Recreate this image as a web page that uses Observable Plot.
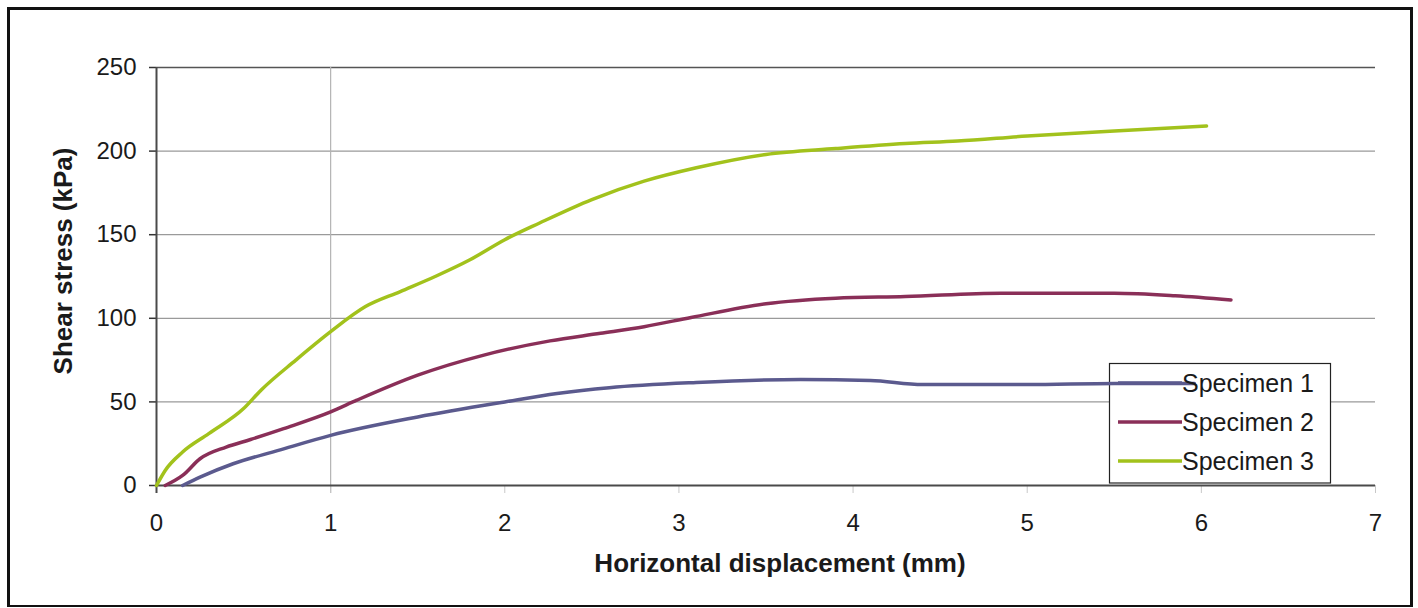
<!DOCTYPE html>
<html>
<head>
<meta charset="utf-8">
<script src="https://cdn.jsdelivr.net/npm/d3@7"></script>
<script src="https://cdn.jsdelivr.net/npm/@observablehq/plot@0.6"></script>
<style>
  html, body { margin: 0; padding: 0; background: #fff; }
  #wrap { position: relative; width: 1418px; height: 608px; overflow: hidden; }
  #frame { position: absolute; left: 7px; top: 7px; width: 1406px; height: 600px; box-sizing: border-box; border: 3px solid #111; border-bottom-width: 2px; pointer-events: none; }
  #wrap svg { position: absolute; left: 0; top: 0; }
</style>
</head>
<body>
<div id="wrap"><div id="frame"></div></div>
<script>
// ---- data ----
const seriesNames = ["Specimen 1", "Specimen 2", "Specimen 3"];
const seriesColors = ["#5b5a8e", "#8a2f58", "#a2c21c"];
const xTicks = [0, 1, 2, 3, 4, 5, 6, 7];
const yTicks = [0, 50, 100, 150, 200, 250];

const spec1X = [0.15, 0.25, 0.44, 0.7, 1.0, 1.5, 2.0, 2.3, 2.6, 3.1, 3.7, 4.1, 4.4, 5.0, 5.5, 5.96];
const spec1Y = [0, 5, 13, 21, 30, 41, 50, 55, 58.5, 61.6, 63.4, 62.8, 60.4, 60.4, 61, 61];

const spec2X = [0.05, 0.15, 0.25, 0.4, 0.54, 0.73, 1.0, 1.15, 1.5, 1.88, 2.26, 2.55, 2.8, 3.07, 3.5, 3.9, 4.3, 4.85, 5.5, 5.85, 6.17];
const spec2Y = [0, 6, 16, 23, 27.5, 34, 44, 51, 66, 78, 86.5, 91, 95, 100.5, 108.7, 112, 113, 115, 115, 113.5, 111];

const spec3X = [0, 0.05, 0.15, 0.3, 0.5, 0.6, 0.8, 1.0, 1.2, 1.4, 1.6, 1.8, 2.0, 2.2, 2.5, 2.8, 3.1, 3.5, 3.9, 4.3, 4.6, 5.0, 5.5, 6.03];
const spec3Y = [0, 9, 20, 31, 46, 57, 75, 92, 107, 116, 125, 135, 147, 157, 171, 182, 190, 198, 201.5, 204.5, 206, 209, 212, 215];

const xTitle = "Horizontal displacement (mm)";
const yTitle = "Shear stress (kPa)";

// build table
const rows = [];
[[spec1X, spec1Y], [spec2X, spec2Y], [spec3X, spec3Y]].forEach(([xs, ys], i) => {
  xs.forEach((x, j) => rows.push({series: seriesNames[i], x, y: ys[j]}));
});

const FONT = "'Liberation Sans', Arial, Helvetica, sans-serif";

const chart = Plot.plot({
  width: 1418,
  height: 608,
  marginLeft: 156,
  marginRight: 43,
  marginTop: 67,
  marginBottom: 123,
  style: {fontFamily: FONT, fontSize: "24px", color: "#1a1a1a", background: "transparent", overflow: "visible"},
  x: {domain: [0, 7]},
  y: {domain: [0, 250]},
  color: {domain: seriesNames, range: seriesColors},
  marks: [
    Plot.ruleY(yTicks.filter(d => d > 0 && d < 250), {stroke: "#9a9a9a", strokeWidth: 1.2}),
    Plot.ruleY([250], {stroke: "#555", strokeWidth: 1.5}),
    Plot.ruleX([1], {stroke: "#b4b4b4", strokeWidth: 1.2, insetBottom: -8}),
    Plot.axisY({ticks: yTicks, tickFormat: d3.format("d"), tickSize: 7, tickPadding: 13, label: null, stroke: "#333", strokeWidth: 1.5}),
    Plot.axisX({ticks: xTicks, tickFormat: d3.format("d"), tickSize: 8, tickPadding: 20, label: null, stroke: "#c8c8c8"}),
    Plot.ruleY([0], {stroke: "#4a4a4a", strokeWidth: 2}),
    Plot.ruleX([0], {stroke: "#4a4a4a", strokeWidth: 2, insetBottom: -8}),
    Plot.line(rows, {x: "x", y: "y", z: "series", stroke: "series", strokeWidth: 3.5, curve: "monotone-x"})
  ]
});

document.getElementById("wrap").insertBefore(chart, document.getElementById("frame"));

const svg = d3.select(chart);

// axis titles
svg.append("text")
  .attr("x", 780).attr("y", 572)
  .attr("text-anchor", "middle")
  .attr("font-family", FONT).attr("font-size", 26).attr("font-weight", "bold")
  .attr("fill", "#1a1a1a")
  .text(xTitle);

svg.append("text")
  .attr("transform", "translate(72,261) rotate(-90)")
  .attr("text-anchor", "middle")
  .attr("font-family", FONT).attr("font-size", 26).attr("font-weight", "bold")
  .attr("fill", "#1a1a1a")
  .text(yTitle);

// legend box (beneath the data lines, above the gridlines)
const lineG = chart.querySelector('g[aria-label="line"]');
const box = document.createElementNS("http://www.w3.org/2000/svg", "rect");
box.setAttribute("x", 1109.5); box.setAttribute("y", 363.5);
box.setAttribute("width", 221); box.setAttribute("height", 119.5);
box.setAttribute("fill", "#fff"); box.setAttribute("stroke", "#222"); box.setAttribute("stroke-width", 1.2);
lineG.parentNode.insertBefore(box, lineG);

const leg = svg.append("g");
seriesNames.forEach((name, i) => {
  const cy = 383 + i * 39;
  leg.append("line")
    .attr("x1", 1118).attr("x2", 1182).attr("y1", cy).attr("y2", cy)
    .attr("stroke", seriesColors[i]).attr("stroke-width", 3.5);
  leg.append("text")
    .attr("x", 1182).attr("y", cy + 8.5)
    .attr("text-anchor", "start")
    .attr("font-family", FONT).attr("font-size", 25)
    .attr("fill", "#1a1a1a")
    .text(name);
});
</script>
</body>
</html>
